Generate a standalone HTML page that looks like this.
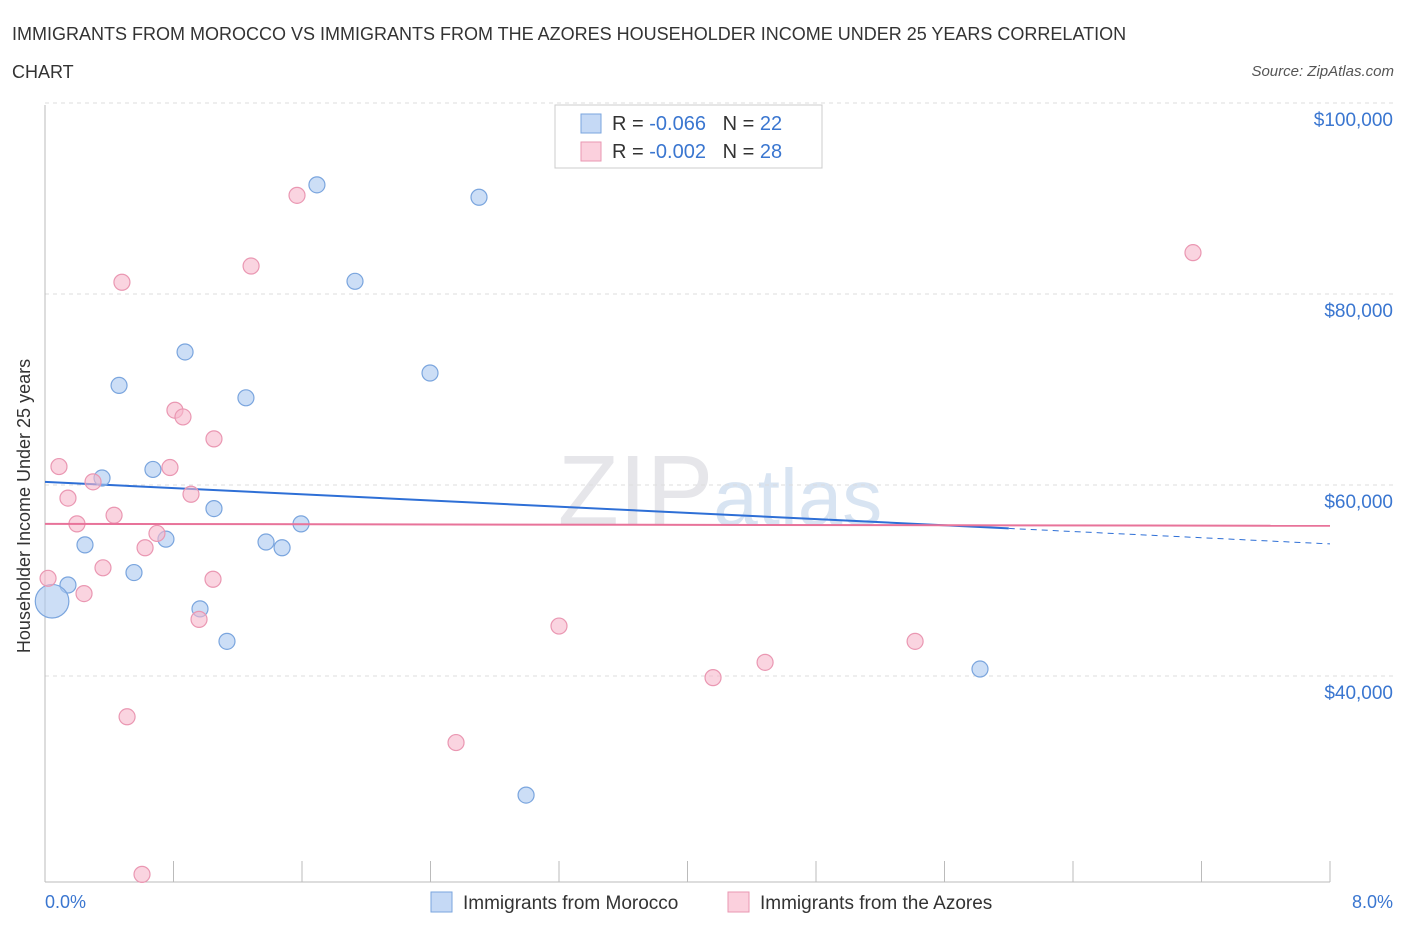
<!DOCTYPE html>
<html><head><meta charset="utf-8"><style>
body{margin:0;background:#fff;font-family:"Liberation Sans",sans-serif;}
svg text{font-family:"Liberation Sans",sans-serif;}
</style></head><body>
<svg id="chart" width="1406" height="930" viewBox="0 0 1406 930">
<text x="12" y="40" font-size="18" fill="#333">IMMIGRANTS FROM MOROCCO VS IMMIGRANTS FROM THE AZORES HOUSEHOLDER INCOME UNDER 25 YEARS CORRELATION</text>
<text x="12" y="78" font-size="18" fill="#333">CHART</text>
<text x="1394" y="76" font-size="15" font-style="italic" fill="#555" text-anchor="end">Source: ZipAtlas.com</text>
<text x="720" y="525" font-size="100" fill="#e6e6ea" text-anchor="middle" font-family="Liberation Serif">ZIP<tspan fill="#d8e4f2" font-family="Liberation Sans" font-size="80">atlas</tspan></text>
<g id="grid"></g><g id="axes"></g><g id="lines"></g><g id="pts"></g>
<text x="17" y="493" font-size="18" fill="#333" text-anchor="middle" transform="rotate(-90 30 493)">Householder Income Under 25 years</text>
<text x="45" y="908" font-size="18" fill="#3a76d0">0.0%</text>
<text x="1393" y="908" font-size="18" fill="#3a76d0" text-anchor="end">8.0%</text>
<g>
<rect x="555" y="105" width="267" height="63" fill="#fff" stroke="#ccc"/>
<rect x="581" y="114" width="20" height="19" fill="#c5d9f5" stroke="#7aa5de"/>
<rect x="581" y="142" width="20" height="19" fill="#fbd0dd" stroke="#ea97b2"/>
<text x="612" y="130" font-size="20" fill="#333">R = <tspan fill="#3a76d0">-0.066</tspan>&#160;&#160;&#160;N = <tspan fill="#3a76d0">22</tspan></text>
<text x="612" y="158" font-size="20" fill="#333">R = <tspan fill="#3a76d0">-0.002</tspan>&#160;&#160;&#160;N = <tspan fill="#3a76d0">28</tspan></text>
</g>
<g>
<rect x="431" y="892" width="21" height="20" fill="#c5d9f5" stroke="#7aa5de"/>
<text x="463" y="909" font-size="19" fill="#333">Immigrants from Morocco</text>
<rect x="728" y="892" width="21" height="20" fill="#fbd0dd" stroke="#ea97b2"/>
<text x="760" y="909" font-size="19" fill="#333">Immigrants from the Azores</text>
</g>
</svg>
<script>
const yTicks=[40000,60000,80000,100000];
const yTickLabels=["$40,000","$60,000","$80,000","$100,000"];
const xTicks=[0,0.8,1.6,2.4,3.2,4.0,4.8,5.6,6.4,7.2,8.0];
const moroccoX=[1.693,2.702,1.930,0.872,0.461,2.397,1.251,0.355,0.672,1.052,1.594,0.249,0.753,1.376,1.476,0.554,0.143,0.044,0.965,1.133,5.821,2.995];
const moroccoY=[93000,91700,82900,75500,72000,73300,70700,62300,63200,59100,57500,55300,55900,55600,55000,52400,51100,49400,48600,45200,42300,29100];
const moroccoSize=[1,1,1,1,1,1,1,1,1,1,1,1,1,1,1,1,1,2.1,1,1,1,1];
const azoresX=[1.569,1.283,0.479,7.147,0.809,0.859,1.052,0.087,0.778,0.299,0.143,0.909,0.430,0.199,0.697,0.623,0.361,0.019,1.046,0.243,0.959,3.200,5.417,4.483,4.159,0.511,2.559,0.604];
const azoresY=[91900,84500,82800,85900,69400,68700,66400,63500,63400,61900,60200,60600,58400,57500,56500,55000,52900,51800,51700,50200,47500,46800,45200,43000,41400,37300,34600,20800];
const moroccoTrend=[61900,55400];
const azoresTrend=[57500,57300];
const NS="http://www.w3.org/2000/svg";
const X=p=>45+p/8*1285;
const Y=v=>500-(v-60000)*191/20000;
function mk(tag,attrs,parent){const e=document.createElementNS(NS,tag);for(const k in attrs)e.setAttribute(k,attrs[k]);document.getElementById(parent).appendChild(e);return e;}
yTicks.forEach((v,i)=>{
 const g=mk('line',{x1:45,x2:1393,y1:Y(v)-15,y2:Y(v)-15,stroke:'#ddd','stroke-dasharray':'4 4'},'grid');
 
 
 const t=mk('text',{x:1393,y:Y(v)+8-15+15,'font-size':19,fill:'#3a76d0','text-anchor':'end'},'grid');
 t.textContent=yTickLabels[i];
 
 
});
const ya=mk('line',{x1:45,x2:45,y1:105,y2:882,stroke:'#bbb'},'axes');


const xa=mk('line',{x1:45,x2:1330,y1:882,y2:882,stroke:'#bbb'},'axes');


xTicks.forEach(p=>{
 const t=mk('line',{x1:X(p),x2:X(p),y1:861,y2:882,stroke:'#bbb'},'axes');
 
 
});
function pts(xs,ys,sz,fill,stroke,name){
 xs.forEach((p,i)=>{
  const c=mk('circle',{cx:X(p),cy:Y(ys[i]),r:8*(sz?sz[i]:1),fill:fill,stroke:stroke,'stroke-width':1.2},'pts');
  
  
 });
}
// trend lines
const bSolidEnd=6.0;
const bAt=p=>moroccoTrend[0]+(moroccoTrend[1]-moroccoTrend[0])*p/8;
const l1=mk('line',{x1:X(0),y1:Y(bAt(0)),x2:X(bSolidEnd),y2:Y(bAt(bSolidEnd)),stroke:'#2e6fd6','stroke-width':2},'lines');


const l2=mk('line',{x1:X(bSolidEnd),y1:Y(bAt(bSolidEnd)),x2:X(8),y2:Y(bAt(8)),stroke:'#2e6fd6','stroke-width':1,'stroke-dasharray':'6 5'},'lines');


pts(moroccoX,moroccoY,moroccoSize,'rgba(170,200,240,0.6)','#7aa5de','morocco-point');
pts(azoresX,azoresY,null,'rgba(247,184,203,0.6)','#ea97b2','azores-point');
const l3=mk('line',{x1:X(0),y1:Y(azoresTrend[0]),x2:X(8),y2:Y(azoresTrend[1]),stroke:'#e8739a','stroke-width':2},'lines');
document.getElementById('pts').appendChild(l3);


</script>
</body></html>
